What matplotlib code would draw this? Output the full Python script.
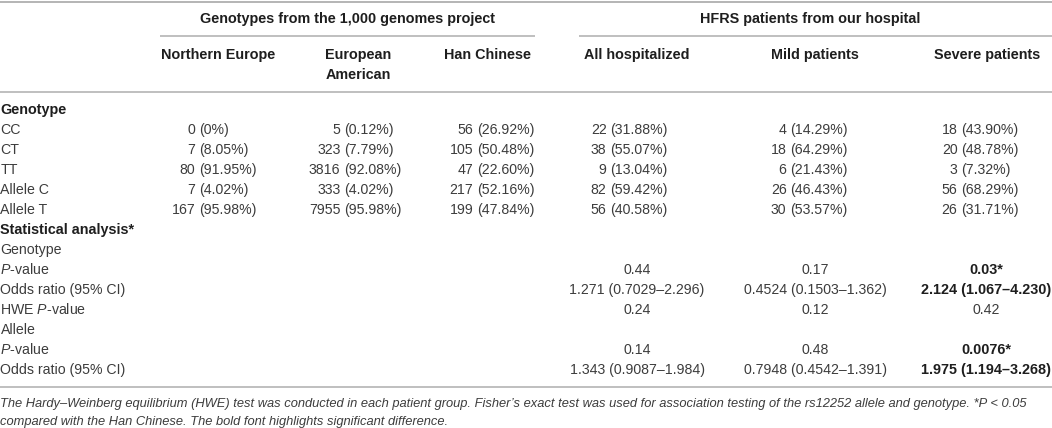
import matplotlib
matplotlib.use("Agg")
import matplotlib.pyplot as plt

plt.rcParams['font.family'] = ['Liberation Sans', 'DejaVu Sans']
plt.rcParams['mathtext.fontset'] = 'custom'
plt.rcParams['mathtext.rm'] = 'Liberation Sans'
plt.rcParams['mathtext.it'] = 'Liberation Sans:italic'
plt.rcParams['mathtext.bf'] = 'Liberation Sans:bold'

# ---- data ----
group_headers = ["Genotypes from the 1,000 genomes project", "HFRS patients from our hospital"]
col_headers = ["Northern Europe", "European\nAmerican", "Han Chinese",
               "All hospitalized", "Mild patients", "Severe patients"]
genotype_rows = ["CC", "CT", "TT", "Allele C", "Allele T"]
counts = [
    [0, 7, 80, 7, 167],
    [5, 323, 3816, 333, 7955],
    [56, 105, 47, 217, 199],
    [22, 38, 9, 82, 56],
    [4, 18, 6, 26, 30],
    [18, 20, 3, 56, 26],
]
percents = [
    ["0%", "8.05%", "91.95%", "4.02%", "95.98%"],
    ["0.12%", "7.79%", "92.08%", "4.02%", "95.98%"],
    ["26.92%", "50.48%", "22.60%", "52.16%", "47.84%"],
    ["31.88%", "55.07%", "13.04%", "59.42%", "40.58%"],
    ["14.29%", "64.29%", "21.43%", "46.43%", "53.57%"],
    ["43.90%", "48.78%", "7.32%", "68.29%", "31.71%"],
]
stat_rows = ["Genotype", r"$\it{P}$-value", "Odds ratio (95% CI)", r"HWE $\it{P}$-value",
             "Allele", r"$\it{P}$-value", "Odds ratio (95% CI)"]
# stats for the three hospital columns (None = blank)
stat_values = [
    [None, None, None],
    ["0.44", "0.17", "0.03*"],
    ["1.271 (0.7029–2.296)", "0.4524 (0.1503–1.362)", "2.124 (1.067–4.230)"],
    ["0.24", "0.12", "0.42"],
    [None, None, None],
    ["0.14", "0.48", "0.0076*"],
    ["1.343 (0.9087–1.984)", "0.7948 (0.4542–1.391)", "1.975 (1.194–3.268)"],
]
stat_bold = [
    [False, False, False],
    [False, False, True],
    [False, False, True],
    [False, False, False],
    [False, False, False],
    [False, False, True],
    [False, False, True],
]
footnote = ["The Hardy–Weinberg equilibrium (HWE) test was conducted in each patient group. "
            "Fisher’s exact test was used for association testing of the rs12252 allele and genotype. *P < 0.05",
            "compared with the Han Chinese. The bold font highlights significant difference."]

# ---- layout (pixels) ----
W, H = 1052, 428
fig = plt.figure(figsize=(W / 100, H / 100), dpi=100)
ax = fig.add_axes([0, 0, 1, 1])
ax.set_xlim(0, W)
ax.set_ylim(H, 0)
ax.axis('off')

TXT = '#3c3c3c'
BOLD = '#1e1e1e'
LINE = '#b4b4b4'
FS = 10.2
FSB = 10.4

hdr_cx = [218, 358, 487, 637, 815, 987]
paren_x = [199, 344, 477, 610, 790, 961]
stat_cx = [637, 815, 986]

# rules
ax.plot([0, W], [1.5, 1.5], color=LINE, lw=1.4, solid_capstyle='butt')
ax.plot([160, 535], [36, 36], color=LINE, lw=1.2, solid_capstyle='butt')
ax.plot([579, W], [36, 36], color=LINE, lw=1.2, solid_capstyle='butt')
ax.plot([0, W], [91.5, 91.5], color=LINE, lw=1.2, solid_capstyle='butt')
ax.plot([0, W], [387, 387], color=LINE, lw=1.2, solid_capstyle='butt')

# group headers
ax.text(348, 18.5, group_headers[0], ha='center', va='center', fontsize=FSB, fontweight='bold', color=BOLD)
ax.text(810, 18.5, group_headers[1], ha='center', va='center', fontsize=FSB, fontweight='bold', color=BOLD)

# column headers
for cx, h in zip(hdr_cx, col_headers):
    ax.text(cx, 48, h, ha='center', va='top', fontsize=FSB, fontweight='bold', color=BOLD,
            linespacing=1.5)

# genotype section
y0 = 110
ax.text(0.5, y0, "Genotype", ha='left', va='center', fontsize=FSB, fontweight='bold', color=BOLD)
for i, lab in enumerate(genotype_rows):
    y = y0 + 20 * (i + 1)
    ax.text(0.5, y, lab, ha='left', va='center', fontsize=FS, color=TXT)
    for c in range(6):
        ax.text(paren_x[c] - 3.5, y, f"{counts[c][i]}", ha='right', va='center', fontsize=FS, color=TXT)
        ax.text(paren_x[c], y, f"({percents[c][i]})", ha='left', va='center', fontsize=FS, color=TXT)

# statistics section
ys = y0 + 20 * 6
ax.text(0.5, ys, "Statistical analysis*", ha='left', va='center', fontsize=FSB, fontweight='bold', color=BOLD)
for j, lab in enumerate(stat_rows):
    y = ys + 20 * (j + 1)
    ax.text(0.5, y, lab, ha='left', va='center', fontsize=FS, color=TXT)
    for c in range(3):
        v = stat_values[j][c]
        if v is None:
            continue
        b = stat_bold[j][c]
        ax.text(stat_cx[c], y, v, ha='center', va='center', fontsize=FSB if b else FS,
                fontweight='bold' if b else 'normal', color=BOLD if b else TXT)

# footnote
ax.text(0.5, 404, footnote[0], ha='left', va='center', fontsize=9.3, style='italic', color=TXT)
ax.text(0.5, 422.5, footnote[1], ha='left', va='center', fontsize=9.3, style='italic', color=TXT)

fig.savefig("out.png", dpi=100)
